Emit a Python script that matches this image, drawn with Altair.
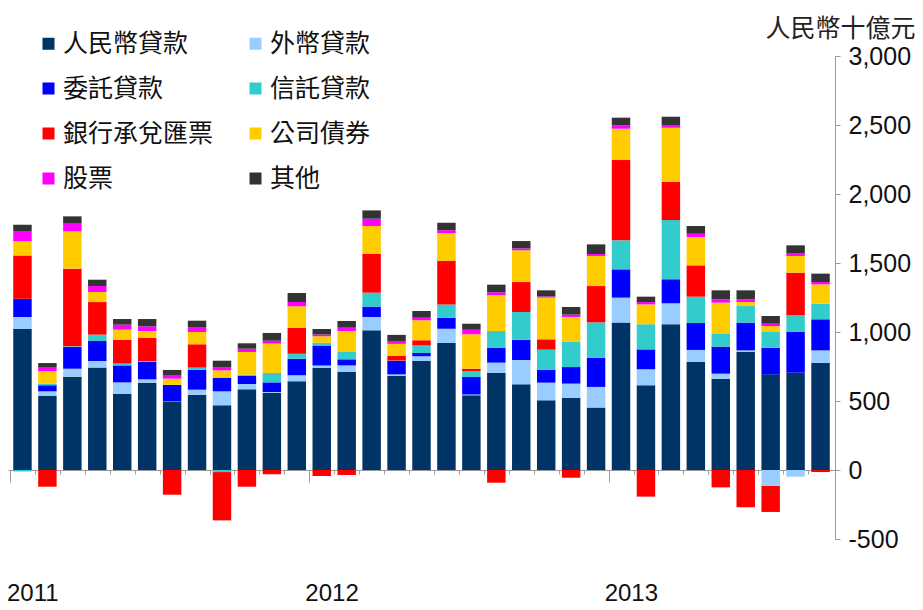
import altair as alt
import pandas as pd

# Monthly categories, Jan 2011 - Sep 2013
months = [
    "2011-01", "2011-02", "2011-03", "2011-04", "2011-05", "2011-06",
    "2011-07", "2011-08", "2011-09", "2011-10", "2011-11", "2011-12",
    "2012-01", "2012-02", "2012-03", "2012-04", "2012-05", "2012-06",
    "2012-07", "2012-08", "2012-09", "2012-10", "2012-11", "2012-12",
    "2013-01", "2013-02", "2013-03", "2013-04", "2013-05", "2013-06",
    "2013-07", "2013-08", "2013-09",
]

# Components in stacking order (bottom to top)
series = ["人民幣貸款", "外幣貸款", "委託貸款", "信託貸款",
          "銀行承兌匯票", "公司債券", "股票", "其他"]
colors = ["#003366", "#99CCFF", "#0000FF", "#33CCCC",
          "#FF0000", "#FFCC00", "#FF00FF", "#333333"]

# Flows by component, RMB billion
rmb_loans = [1024, 536, 676, 742, 551, 633, 493, 546, 469, 585, 560, 643,
             739, 710, 1012, 681, 790, 920, 541, 705, 621, 505, 522, 452,
             1068, 614, 1056, 785, 662, 857, 693, 705, 778]
fx_loans = [85, 34, 58, 48, 84, 24, 3, 36, 101, 38, 5, 43,
            19, 48, 97, 12, 34, 104, 7, 73, 176, 128, 104, 150,
            181, 116, 152, 85, 36, 10, -116, -48, 89]
entrusted = [132, 44, 157, 145, 123, 126, 121, 145, 99, 61, 70, 121,
             145, 44, 75, 97, 24, 80, 126, 106, 147, 94, 120, 210,
             205, 144, 174, 195, 196, 201, 193, 295, 225]
trust = [-10, 12, 5, 46, 13, 7, 0, 15, -15, 7, 68, 36,
         20, 53, 101, 3, 55, 96, 41, 123, 201, 145, 182, 258,
         210, 182, 429, 191, 96, 120, 114, 121, 113]
acceptances = [314, -121, 563, 236, 173, 167, -179, 169, -350, -121, -31, 186,
               -43, -36, 283, 36, 37, 314, 19, -92, 217, 75, -56, 263,
               582, -193, 278, 227, -126, -270, -188, 309, -15]
bonds = [102, 89, 270, 73, 73, 50, 45, 89, 53, 164, 213, 157,
         46, 152, 200, 85, 145, 201, 249, 259, 230, 302, 181, 218,
         227, 144, 391, 205, 223, 29, 43, 121, 140]
equity = [75, 27, 56, 43, 36, 34, 22, 36, 24, 24, 21, 31,
          12, 24, 53, 21, 19, 22, 34, 21, 14, 9, 17, 14,
          24, 17, 20, 24, 24, 20, 17, 17, 17]
other = [46, 33, 53, 46, 41, 53, 41, 46, 46, 39, 56, 66,
         41, 49, 60, 44, 48, 55, 43, 56, 53, 44, 55, 70,
         56, 39, 60, 56, 65, 65, 56, 60, 61]

values = [rmb_loans, fx_loans, entrusted, trust, acceptances, bonds, equity, other]

rows = []
for k, (name, vals) in enumerate(zip(series, values)):
    for m, v in zip(months, vals):
        rows.append({"month": m, "series": name, "value": v, "order": k})
df = pd.DataFrame(rows)

# Legend is filled column by column, so list the left column first
legend_order = [0, 2, 4, 6, 1, 3, 5, 7]
legend_domain = [series[i] for i in legend_order]
legend_range = [colors[i] for i in legend_order]

CJK = "Noto Sans CJK TC"
LATIN = "Liberation Sans"
AXIS_GREY = "#9a9a9a"

x_axis = alt.Axis(
    orient="bottom",
    offset=-69,
    title=None,
    bandPosition=0,
    tickOffset=-3.2,
    domainColor=AXIS_GREY,
    tickColor=AXIS_GREY,
    tickSize={"condition": {"test": "substring(datum.value, 5, 7) == '01'", "value": 12},
              "value": 4},
    labelExpr="substring(datum.value, 5, 7) == '01' ? substring(datum.value, 0, 4) : ''",
    labelAngle=0,
    labelFont=LATIN,
    labelFontSize=24,
    labelColor="#111111",
    labelPadding=99,
    labelOffset=13,
    labelAlign="center",
)

y_axis = alt.Axis(
    orient="right",
    values=list(range(-500, 3001, 500)),
    labelExpr="datum.value < 0 ? '-' + format(-datum.value, ',') : format(datum.value, ',')",
    grid=False,
    domainColor=AXIS_GREY,
    tickColor=AXIS_GREY,
    tickSize=5,
    labelFont=LATIN,
    labelFontSize=25,
    labelColor="#111111",
    labelPadding=8,
    title="人民幣十億元",
    titleAngle=0,
    titleX=80,
    titleY=-28,
    titleAlign="right",
    titleBaseline="middle",
    titleFont=CJK,
    titleFontSize=25,
    titleFontWeight="normal",
    titleColor="#222222",
)

legend = alt.Legend(
    orient="none",
    legendX=28,
    legendY=-25,
    columns=2,
    title=None,
    symbolType="square",
    symbolSize=144,
    symbolStrokeWidth=0,
    labelFont=CJK,
    labelFontSize=25,
    labelColor="#111111",
    labelOffset=2,
    labelLimit=300,
    rowPadding=19,
    columnPadding=29,
    padding=0,
)

chart = (
    alt.Chart(df)
    .mark_bar()
    .encode(
        x=alt.X("month:N", sort=months,
                scale=alt.Scale(paddingInner=0.26, paddingOuter=0.21),
                axis=x_axis),
        y=alt.Y("value:Q", stack="zero",
                scale=alt.Scale(domain=[-500, 3000], nice=False),
                axis=y_axis),
        color=alt.Color("series:N", sort=legend_domain,
                        scale=alt.Scale(domain=legend_domain, range=legend_range),
                        legend=legend),
        order=alt.Order("order:Q", sort="ascending"),
    )
    .properties(
        width=827,
        height=483,
        autosize=alt.AutoSizeParams(type="none"),
        padding={"left": 8, "top": 56, "right": 88, "bottom": 71},
        background="white",
    )
    .configure_view(stroke=None)
)

chart.save("out.html", embed_options={"renderer": "svg", "actions": False})
